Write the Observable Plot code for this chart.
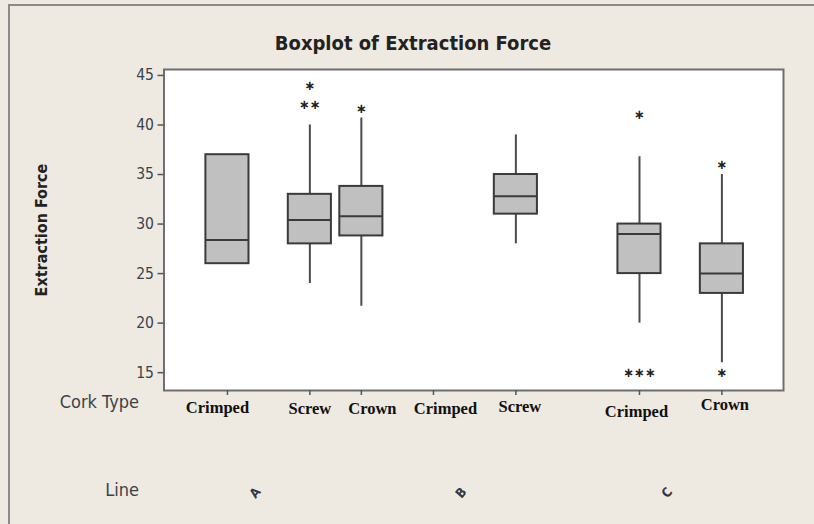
<!DOCTYPE html>
<html>
<head>
<meta charset="utf-8">
<script src="https://cdn.jsdelivr.net/npm/d3@7"></script>
<script src="https://cdn.jsdelivr.net/npm/@observablehq/plot@0.6"></script>
<style>
  html, body { margin: 0; padding: 0; background: #EEEAE1; }
  #wrap { position: relative; width: 814px; height: 524px; overflow: hidden; background: #EEEAE1; }
  #border { position: absolute; left: 8px; top: 4px; width: 820px; height: 540px;
            border-left: 2px solid #8a8a8a; border-top: 2px solid #8a8a8a; }
  #title { position: relative; height: 60px; box-sizing: border-box; padding-top: 33px; padding-left: 12px;
           text-align: center; line-height: 20px; font-family: "DejaVu Sans Condensed", "DejaVu Sans", sans-serif;
           font-stretch: condensed; font-weight: bold; font-size: 20px; color: #222; }
  #chart { position: relative; }
</style>
</head>
<body>
<div id="wrap">
  <div id="border"></div>
  <div id="title">Boxplot of Extraction Force</div>
  <div id="chart"></div>
</div>
<script>
// ---- data ----
const groups    = ["A-Crimped", "A-Screw", "A-Crown", "B-Crimped", "B-Screw", "C-Crimped", "C-Crown"];
const lines     = ["A", "A", "A", "B", "B", "C", "C"];
const corkTypes = ["Crimped", "Screw", "Crown", "Crimped", "Screw", "Crimped", "Crown"];
const whiskerLow  = [26,   24,   21.7, NaN, 28,   20,   16];
const q1          = [26,   28,   28.8, NaN, 31,   25,   23];
const median      = [28.4, 30.4, 30.8, NaN, 32.8, 29,   25];
const q3          = [37,   33,   33.8, NaN, 35,   30,   28];
const whiskerHigh = [37,   40,   40.7, NaN, 39,   36.8, 35];
const outlierGroup = ["A-Screw", "A-Screw", "A-Crown", "C-Crimped", "C-Crimped", "C-Crown", "C-Crown"];
const outlierValue = [44, 42, 41.6, 41, 15, 36, 15];
const outlierCount = [1, 2, 1, 1, 3, 1, 1];
const lineNames = ["A", "B", "C"];
const yTicks = [15, 20, 25, 30, 35, 40, 45];

// ---- layout: ordinal slot index of each category along x (the rest are empty spacer slots) ----
const slotLayout = [["A-Crimped", 0], ["A", 3], ["A-Screw", 8], ["A-Crown", 13], ["B-Crimped", 20], ["B", 23],
                    ["B-Screw", 28], ["C-Crimped", 40], ["C", 43], ["C-Crown", 48]];
const slotCount = 49;
const xSlots = Array.from({length: slotCount}, (_, i) => "slot" + i);
for (const [key, idx] of slotLayout) xSlots[idx] = key;

const labelNudge = {
  "A-Crimped": [-10, 22], "A-Screw": [0, 23], "A-Crown": [11, 23], "B-Crimped": [12, 23],
  "B-Screw": [4, 21], "C-Crimped": [-3, 26], "C-Crown": [3, 19]
};

const stats = groups.map((g, i) => ({
  group: g, low: whiskerLow[i], q1: q1[i], median: median[i], q3: q3[i], high: whiskerHigh[i]
}));
const outliers = outlierGroup.map((g, i) => ({group: g, value: outlierValue[i], count: outlierCount[i]}));

const boxStroke = "#3a3a3a";
const boxInset = -16.4; // widen bars beyond the narrow slot band
const corkLabelMarks = groups.map((g, i) => Plot.text([i], {
  x: d => groups[d], text: d => corkTypes[d], frameAnchor: "bottom",
  dx: labelNudge[g][0], dy: labelNudge[g][1],
  fontFamily: "Liberation Serif, Times New Roman, serif", fontWeight: "bold", fontSize: 16.5, fill: "#111"
}));

const chart = Plot.plot({
  width: 814,
  height: 464,
  marginTop: 9,
  marginBottom: 134,
  marginLeft: 163.5,
  marginRight: 31,
  style: {background: "transparent", overflow: "visible",
          fontFamily: '"DejaVu Sans Condensed", "DejaVu Sans", sans-serif'},
  x: {type: "band", domain: xSlots, paddingInner: 0, paddingOuter: 5.57, align: 0.508, round: false, label: null},
  y: {domain: [13.2, 45.6], label: null},
  marks: [
    Plot.frame({fill: "white", stroke: null}),
    Plot.ruleX(stats, {x: "group", y1: "low", y2: "q1", stroke: "#4a4a4a", strokeWidth: 2}),
    Plot.ruleX(stats, {x: "group", y1: "q3", y2: "high", stroke: "#4a4a4a", strokeWidth: 2}),
    Plot.barY(stats, {x: "group", y1: "q1", y2: "q3", fill: "#c0c0c0", stroke: boxStroke, strokeWidth: 2,
                      insetLeft: boxInset, insetRight: boxInset}),
    Plot.tickY(stats, {x: "group", y: "median", stroke: boxStroke, strokeWidth: 2,
                       insetLeft: boxInset, insetRight: boxInset}),
    Plot.text(outliers, {x: "group", y: "value", text: d => "\u2217".repeat(d.count),
                         fontFamily: "DejaVu Sans, sans-serif", fontWeight: "bold", fontSize: 13, fill: "#222"}),
    Plot.frame({stroke: "#6e6e6e", strokeWidth: 2}),
    Plot.axisY(yTicks, {tickSize: 6, tickPadding: 4, fontSize: 15.5, fill: "#39424c", stroke: "#555",
                        strokeWidth: 1.5, label: null}),
    Plot.axisX(groups, {tickSize: 5, tickFormat: () => "", stroke: "#555", strokeWidth: 1.5, label: null}),
    ...corkLabelMarks,
    Plot.text(lineNames, {x: d => d, text: d => d, frameAnchor: "bottom", dy: 105, rotate: -50,
                          fontWeight: "bold", fontSize: 13, fill: "#2f3846"}),
    Plot.text(["Cork Type"], {text: d => d, frameAnchor: "bottom-left", textAnchor: "end", dx: -25, dy: 17,
                              fontSize: 18, fill: "#3c4148"}),
    Plot.text(["Line"], {text: d => d, frameAnchor: "bottom-left", textAnchor: "end", dx: -25, dy: 105,
                         fontSize: 18, fill: "#3c4148"}),
    Plot.text(["Extraction Force"], {text: d => d, frameAnchor: "left", textAnchor: "middle", dx: -122, rotate: -90,
                                     fontWeight: "bold", fontSize: 16, fill: "#222"})
  ]
});
document.getElementById("chart").appendChild(chart);
</script>
</body>
</html>
